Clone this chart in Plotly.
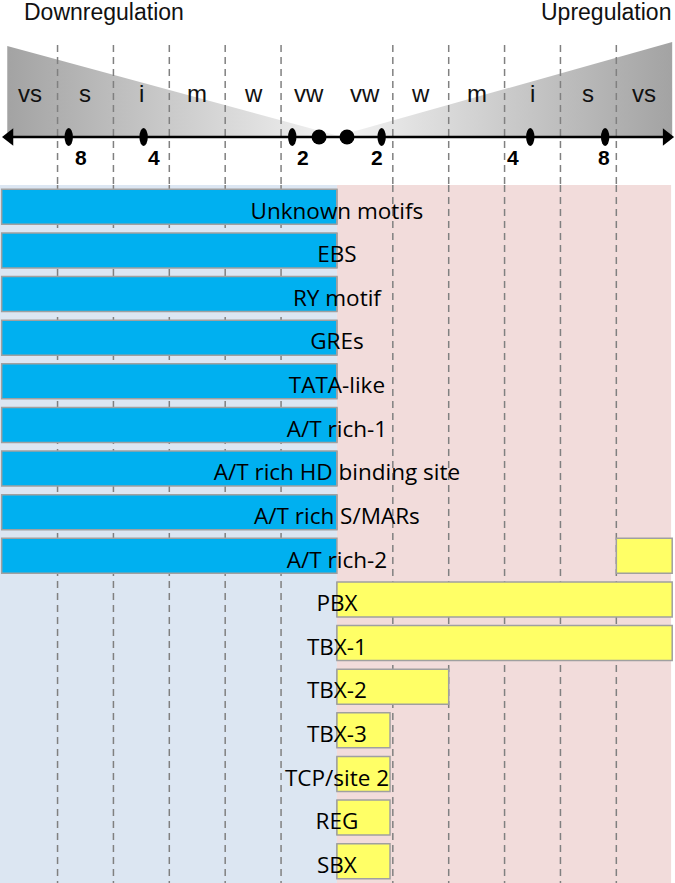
import plotly.graph_objects as go

# motif rows, top to bottom
motifs = [
    "Unknown motifs", "EBS", "RY motif", "GREs", "TATA-like", "A/T rich-1",
    "A/T rich HD binding site", "A/T rich S/MARs", "A/T rich-2", "PBX",
    "TBX-1", "TBX-2", "TBX-3", "TCP/site 2", "REG", "SBX",
]
# downregulation extent (bar runs from -down to 0)
down = [6, 6, 6, 6, 6, 6, 6, 6, 6, 0, 0, 0, 0, 0, 0, 0]
# upregulation bar start / end
up_start = [0, 0, 0, 0, 0, 0, 0, 0, 5, 0, 0, 0, 0, 0, 0, 0]
up_end = [0, 0, 0, 0, 0, 0, 0, 0, 6, 6, 6, 2, 0.95, 0.95, 0.95, 0.95]

# scale on top
zones = ["vw", "w", "m", "i", "s", "vs"]
zone_mid = [0.5, 1.5, 2.5, 3.5, 4.5, 5.5]
fold_labels = ["2", "4", "8"]
fold_pos = [0.8, 3.46, 4.8]
boundaries = [1, 2, 3, 4, 5]

BLUE = "#00b0f0"
YELLOW = "#ffff66"
EDGE = "#a0a0a0"
DASH = "#808080"
W, H = 675, 883
TOP_PX = 185
split = 1 - TOP_PX / H
rows = list(range(len(motifs)))

fig = go.Figure()

# gradient triangles
fig.add_trace(go.Scatter(
    x=[-5.9, -5.9, 0.1, -5.9], y=[46, 137, 137, 46], yaxis="y2",
    mode="lines", line=dict(width=0), fill="toself",
    fillgradient=dict(type="horizontal",
                      colorscale=[[0, "#a3a3a3"], [1, "#f4f4f4"]]),
    hoverinfo="skip", showlegend=False,
))
fig.add_trace(go.Scatter(
    x=[6.0, 6.0, -0.05, 6.0], y=[42, 137, 137, 42], yaxis="y2",
    mode="lines", line=dict(width=0), fill="toself",
    fillgradient=dict(type="horizontal",
                      colorscale=[[0, "#f4f4f4"], [1, "#a3a3a3"]]),
    hoverinfo="skip", showlegend=False,
))

# dashed zone boundaries in the top panel
for b in boundaries:
    for s in (-1, 1):
        fig.add_trace(go.Scatter(
            x=[s * b, s * b], y=[45, TOP_PX], yaxis="y2", mode="lines",
            line=dict(color=DASH, width=1.5, dash="7px,5px"),
            hoverinfo="skip", showlegend=False,
        ))

# axis with arrowheads
fig.add_trace(go.Scatter(
    x=[-5.84, 5.88], y=[137, 137], yaxis="y2", mode="lines",
    line=dict(color="black", width=2.5), hoverinfo="skip", showlegend=False,
))
fig.add_trace(go.Scatter(
    x=[-5.86, 5.9], y=[137, 137], yaxis="y2", mode="markers",
    marker=dict(symbol=["triangle-left", "triangle-right"], size=15,
                color="black"),
    hoverinfo="skip", showlegend=False,
))
fig.add_trace(go.Scatter(
    x=[-0.32, 0.18], y=[137, 137], yaxis="y2", mode="markers",
    marker=dict(size=15, color="black"), hoverinfo="skip", showlegend=False,
))

# bars
fig.add_trace(go.Bar(
    y=rows, x=down, base=[-d for d in down], orientation="h", width=0.8,
    marker=dict(color=BLUE, line=dict(color=EDGE, width=1.5)),
    hoverinfo="skip", showlegend=False,
))
fig.add_trace(go.Bar(
    y=rows, x=[e - s for s, e in zip(up_start, up_end)], base=up_start,
    orientation="h", width=0.8,
    marker=dict(color=YELLOW, line=dict(color=EDGE, width=1.5)),
    hoverinfo="skip", showlegend=False,
))
# labels sit a touch below the bar centre, as in the original
fig.add_trace(go.Scatter(
    y=[r + 0.14 for r in rows], x=[0] * len(motifs), mode="text", text=motifs,
    textposition="middle center",
    textfont=dict(family="Open Sans", size=22.5, color="black"),
    hoverinfo="skip", showlegend=False,
))

shapes = [
    dict(type="rect", xref="x", yref="y", x0=-6.1, x1=0, y0=-0.5, y1=15.5,
         fillcolor="#dce6f2", line=dict(width=0), layer="below"),
    dict(type="rect", xref="x", yref="y", x0=0, x1=5.98, y0=-0.5, y1=15.5,
         fillcolor="#f2dcdb", line=dict(width=0), layer="below"),
]
for b in boundaries:
    for s in (-1, 1):
        shapes.append(dict(
            type="line", xref="x", yref="y", x0=s * b, x1=s * b,
            y0=-0.5, y1=15.5, layer="below",
            line=dict(color=DASH, width=1.5, dash="7px,5px"),
        ))
for p in fold_pos:
    for s in (-1, 1):
        shapes.append(dict(
            type="circle", xref="x", yref="y2", x0=s * p - 0.075,
            x1=s * p + 0.075, y0=128, y1=146, fillcolor="black",
            line=dict(width=0), layer="above",
        ))

annotations = [
    dict(x=-5.63, y=12, xref="x", yref="y2", text="Downregulation",
         showarrow=False, xanchor="left",
         font=dict(family="Liberation Sans", size=23, color="#111111")),
    dict(x=6.02, y=12, xref="x", yref="y2", text="Upregulation",
         showarrow=False, xanchor="right",
         font=dict(family="Liberation Sans", size=23, color="#111111")),
]
for z, m in zip(zones, zone_mid):
    for s in (-1, 1):
        annotations.append(dict(
            x=s * m, y=93, xref="x", yref="y2", text=z, showarrow=False,
            font=dict(family="Liberation Sans", size=24, color="#111111"),
        ))
left_shift = [11, 10, 12]
right_shift = [-5, -17, -1]
for lab, p, ls, rs in zip(fold_labels, fold_pos, left_shift, right_shift):
    for s, sh in ((-1, ls), (1, rs)):
        annotations.append(dict(
            x=s * p, y=157, xref="x", yref="y2", text=f"<b>{lab}</b>",
            showarrow=False, xshift=sh,
            font=dict(family="Liberation Sans", size=21, color="black"),
        ))

fig.update_layout(
    width=W, height=H,
    margin=dict(l=0, r=0, t=0, b=0),
    paper_bgcolor="white", plot_bgcolor="white",
    barmode="overlay",
    xaxis=dict(range=[-6.03, 6.05], visible=False, fixedrange=True),
    yaxis=dict(range=[15.5, -0.5], domain=[0, split], visible=False),
    yaxis2=dict(range=[TOP_PX, 0], domain=[split, 1], visible=False,
                anchor="x"),
    shapes=shapes,
    annotations=annotations,
    showlegend=False,
)

# drop the default page margin so the figure fills the window exactly
fig.write_html(
    "out.html",
    config={"displayModeBar": False},
    post_script="document.body.style.margin='0';document.body.style.overflow='hidden';",
)
